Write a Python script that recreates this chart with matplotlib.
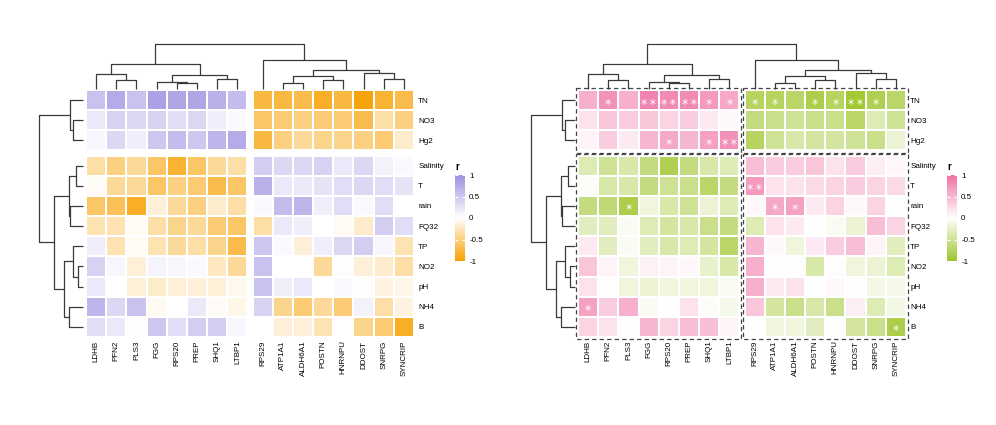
import matplotlib
matplotlib.use('Agg')
import matplotlib.pyplot as plt
from matplotlib.colors import LinearSegmentedColormap, Normalize
from matplotlib.cm import ScalarMappable
from matplotlib.patches import Rectangle
import numpy as np

plt.rcParams['font.family'] = ['Liberation Sans', 'DejaVu Sans']

# ---------------- data ----------------
rows = ['TN', 'NO3', 'Hg2', 'Salinity', 'T', 'rain', 'FQ32', 'TP', 'NO2', 'pH', 'NH4', 'B']
cols = ['LDHB', 'PFN2', 'PLS3', 'FGG', 'RPS20', 'PREP', 'SHQ1', 'LTBP1',
        'RPS29', 'ATP1A1', 'ALDH6A1', 'POSTN', 'HNRNPU', 'DDOST', 'SNRPG', 'SYNCRIP']

r_TN       = [0.55, 0.75, 0.55, 0.85, 0.80, 0.80, 0.70, 0.60, -0.75, -0.75, -0.70, -0.85, -0.75, -0.95, -0.80, -0.70]
r_NO3      = [0.20, 0.40, 0.35, 0.40, 0.30, 0.35, 0.15, 0.05, -0.60, -0.55, -0.50, -0.55, -0.55, -0.70, -0.35, -0.50]
r_Hg2      = [0.08, 0.35, 0.15, 0.50, 0.60, 0.50, 0.65, 0.75, -0.75, -0.50, -0.40, -0.45, -0.45, -0.50, -0.55, -0.20]
r_Salinity = [-0.35, -0.50, -0.40, -0.60, -0.80, -0.60, -0.40, -0.35, 0.45, 0.35, 0.35, 0.40, 0.20, 0.35, 0.12, 0.05]
r_T        = [-0.03, -0.40, -0.40, -0.60, -0.50, -0.55, -0.70, -0.60, 0.70, 0.20, 0.20, 0.25, 0.30, 0.35, 0.30, 0.25]
r_rain     = [-0.60, -0.65, -0.85, -0.15, -0.40, -0.50, -0.20, -0.35, 0.05, 0.60, 0.65, 0.15, 0.30, 0.05, 0.30, 0.00]
r_FQ32     = [-0.30, -0.30, -0.05, -0.35, -0.45, -0.40, -0.55, -0.60, -0.35, 0.20, 0.15, 0.00, -0.05, -0.20, 0.45, 0.30]
r_TP       = [0.15, -0.30, -0.05, -0.30, -0.40, -0.35, -0.45, -0.70, 0.50, 0.05, -0.15, 0.15, 0.35, 0.45, 0.08, -0.30]
r_NO2      = [0.40, 0.08, -0.15, 0.10, 0.08, 0.05, -0.25, -0.40, 0.55, 0.00, 0.00, -0.40, 0.02, -0.15, -0.20, -0.35]
r_pH       = [0.20, 0.00, -0.15, -0.20, -0.15, -0.15, -0.15, -0.07, 0.55, 0.15, 0.20, 0.00, 0.05, 0.02, -0.12, -0.10]
r_NH4      = [0.65, 0.35, 0.55, -0.05, 0.00, 0.20, -0.03, -0.10, 0.40, -0.45, -0.55, -0.40, -0.55, 0.12, -0.35, -0.12]
r_B        = [0.30, 0.20, 0.02, 0.50, 0.30, 0.45, 0.45, 0.08, 0.00, -0.15, -0.15, -0.30, 0.00, -0.45, -0.55, -0.85]

sig_TN       = ['', '*', '', '**', '**', '**', '*', '*', '*', '*', '', '*', '*', '**', '*', '']
sig_NO3      = [''] * 16
sig_Hg2      = ['', '', '', '', '*', '', '*', '**', '', '', '', '', '', '', '', '']
sig_Salinity = [''] * 16
sig_T        = ['', '', '', '', '', '', '', '', '**', '', '', '', '', '', '', '']
sig_rain     = ['', '', '*', '', '', '', '', '', '', '*', '*', '', '', '', '', '']
sig_FQ32     = [''] * 16
sig_TP       = [''] * 16
sig_NO2      = [''] * 16
sig_pH       = [''] * 16
sig_NH4      = ['*', '', '', '', '', '', '', '', '', '', '', '', '', '', '', '']
sig_B        = ['', '', '', '', '', '', '', '', '', '', '', '', '', '', '', '*']

# dendrogram merges: (child a, child b, height); children >= n refer to earlier merges
col_merges = [(4, 5, 0.131), (3, 16, 0.164), (1, 2, 0.204), (6, 7, 0.219),
              (0, 18, 0.328), (17, 19, 0.313), (20, 21, 0.547),
              (9, 10, 0.131), (11, 12, 0.204), (14, 15, 0.219),
              (23, 24, 0.278), (13, 25, 0.350), (26, 27, 0.422),
              (8, 28, 0.641), (22, 29, 1.000)]
row_merges = [(1, 2, 0.227), (0, 12, 0.286), (3, 4, 0.166), (5, 6, 0.302),
              (14, 15, 0.318), (8, 9, 0.114), (7, 17, 0.227), (10, 11, 0.318),
              (18, 19, 0.432), (16, 20, 0.666), (13, 21, 1.000)]
row_split = 3
col_split = 8

R = np.array([r_TN, r_NO3, r_Hg2, r_Salinity, r_T, r_rain, r_FQ32, r_TP, r_NO2, r_pH, r_NH4, r_B])
S = [sig_TN, sig_NO3, sig_Hg2, sig_Salinity, sig_T, sig_rain, sig_FQ32, sig_TP, sig_NO2, sig_pH, sig_NH4, sig_B]

cmap_left = LinearSegmentedColormap.from_list('po', ['#F7A000', '#FFFFFF', '#9C90E0'])
cmap_right = LinearSegmentedColormap.from_list('pg', ['#9DC52A', '#FFFFFF', '#EF6FA2'])
norm = Normalize(-1, 1)

# ---------------- layout ----------------
W, H = 996, 425
fig = plt.figure(figsize=(W / 100, H / 100), dpi=100)
fig.patch.set_facecolor('white')
GAP = 0.25
nr, nc = len(rows), len(cols)
XMAX = nc + GAP
YMAX = nr + GAP


def ax_px(l, t, r, b):
    return fig.add_axes([l / W, 1 - b / H, (r - l) / W, (b - t) / H])


def cpos(j):
    return j + (GAP if j >= col_split else 0) + 0.5


def rpos(i):
    return i + (GAP if i >= row_split else 0) + 0.5


def dendro_segments(merges, n, posf):
    pos = {k: posf(k) for k in range(n)}
    hgt = {k: 0.0 for k in range(n)}
    segs = []
    for k, (a, b, h) in enumerate(merges):
        segs.append(([pos[a], pos[a], pos[b], pos[b]], [hgt[a], h, h, hgt[b]]))
        pos[n + k] = (pos[a] + pos[b]) / 2
        hgt[n + k] = h
    return segs


def panel(x0, cmap, boxes):
    heat = ax_px(x0, 90, x0 + 328, 337)
    blocks_r = [(0, row_split), (row_split, nr)]
    blocks_c = [(0, col_split), (col_split, nc)]
    for (r0, r1) in blocks_r:
        for (c0, c1) in blocks_c:
            xe = np.arange(c0, c1 + 1) + (GAP if c0 >= col_split else 0)
            ye = np.arange(r0, r1 + 1) + (GAP if r0 >= row_split else 0)
            heat.pcolormesh(xe, ye, R[r0:r1, c0:c1], cmap=cmap, norm=norm,
                            edgecolors='white', linewidth=1.1)
            if boxes:
                pad = 0.1
                heat.add_patch(Rectangle((xe[0] - pad, ye[0] - pad), xe[-1] - xe[0] + 2 * pad,
                                         ye[-1] - ye[0] + 2 * pad, fill=False,
                                         edgecolor='#444444', lw=0.9, ls=(0, (3.5, 2.5)),
                                         clip_on=False, zorder=5))
    if boxes:
        for i in range(nr):
            for j in range(nc):
                if S[i][j]:
                    heat.text(cpos(j), rpos(i) + 0.2, '\u2009'.join(S[i][j]), color='white',
                              ha='center', va='center', fontsize=9,
                              family='DejaVu Sans', zorder=6)
    heat.set_xlim(0, XMAX)
    heat.set_ylim(YMAX, 0)
    heat.set_xticks([cpos(j) for j in range(nc)])
    heat.set_xticklabels(cols, rotation=90, fontsize=5.8)
    heat.yaxis.tick_right()
    heat.set_yticks([rpos(i) for i in range(nr)])
    heat.set_yticklabels(rows, fontsize=5.8)
    heat.tick_params(length=0, pad=3)
    heat.tick_params(axis='x', pad=2.5)
    for s in heat.spines.values():
        s.set_visible(False)

    # top dendrogram
    top = ax_px(x0, 44, x0 + 328, 89)
    for xs, ys in dendro_segments(col_merges, nc, cpos):
        top.plot(xs, ys, color='#3a3a3a', lw=0.9, clip_on=False, solid_capstyle='butt')
    top.set_xlim(0, XMAX)
    top.set_ylim(0, 1)
    top.axis('off')

    # left dendrogram
    left = ax_px(x0 - 47, 90, x0 - 3, 337)
    for hs, ys in dendro_segments(row_merges, nr, rpos):
        left.plot(ys, hs, color='#3a3a3a', lw=0.9, clip_on=False, solid_capstyle='butt')
    left.set_xlim(1, 0)
    left.set_ylim(YMAX, 0)
    left.axis('off')

    # colorbar
    cx = x0 + 369
    cax = ax_px(cx, 175, cx + 10, 261)
    cb = fig.colorbar(ScalarMappable(norm=norm, cmap=cmap), cax=cax)
    cb.outline.set_visible(False)
    cb.set_ticks([-1, -0.5, 0, 0.5, 1])
    cb.set_ticklabels(['-1', '-0.5', '0', '0.5', '1'])
    cax.tick_params(axis='y', which='both', direction='in', length=2, width=0.8,
                    color='white', labelsize=5.8, pad=3, left=True, right=True)
    fig.text(cx / W, 1 - 172 / H, 'r', fontsize=7, fontweight='bold', ha='left', va='bottom')


panel(86, cmap_left, boxes=False)
panel(578, cmap_right, boxes=True)

fig.savefig('out.png', dpi=100, facecolor='white')
